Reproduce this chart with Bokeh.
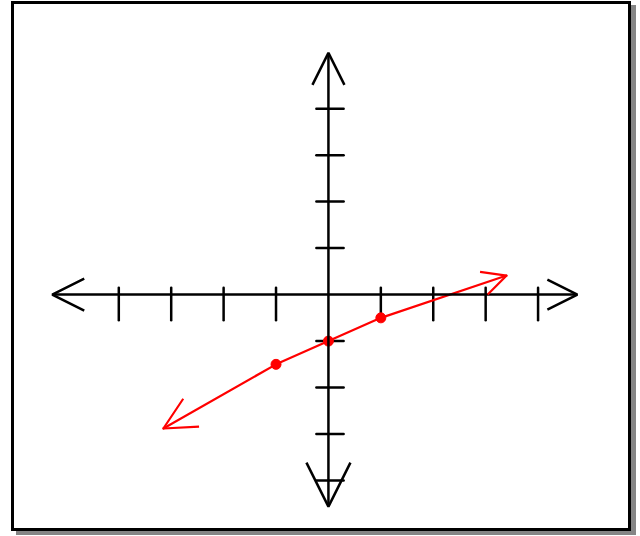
from bokeh.plotting import figure
from bokeh.models import Arrow, OpenHead, Range1d
from bokeh.embed import file_html
from bokeh.resources import INLINE

# ---- data ----
x_ticks = [-4, -3, -2, -1, 1, 2, 3, 4]
y_ticks = [-4, -3, -2, -1, 1, 2, 3, 4]
x_axis_ends = [-5.27, 4.75]
y_axis_ends = [-4.56, 5.2]
pts_x = [-1, 0, 1]
pts_y = [-1.5, -1, -0.5]
line_x = [-3.15, -1, 0, 1, 3.4]
line_y = [-2.88, -1.5, -1, -0.5, 0.41]

BLACK = "#000000"
RED = "#ff0000"
SHADOW = "#858585"

p = figure(width=620, height=530, output_backend="svg", toolbar_location=None,
           x_range=Range1d(-5.99, 5.84), y_range=Range1d(-5.16, 6.24),
           x_axis_location=None, y_axis_location=None,
           min_border=0, outline_line_color=None,
           background_fill_color="white", border_fill_color="white",
           styles={"border": "3px solid black",
                   "box-shadow": "5px 4px 0px " + SHADOW,
                   "margin-left": "11px", "margin-top": "1px"})
p.grid.visible = False

# axes with arrowheads
p.add_layout(Arrow(x_start=x_axis_ends[0], y_start=0, x_end=x_axis_ends[1], y_end=0,
                   line_color=BLACK, line_width=2.5,
                   start=OpenHead(size=32, line_color=BLACK, line_width=2.5),
                   end=OpenHead(size=30, line_color=BLACK, line_width=2.5)))
p.add_layout(Arrow(x_start=0, y_start=y_axis_ends[0], x_end=0, y_end=y_axis_ends[1],
                   line_color=BLACK, line_width=2.5,
                   start=OpenHead(size=44, line_color=BLACK, line_width=2.5),
                   end=OpenHead(size=32, line_color=BLACK, line_width=2.5)))

# tick marks
p.segment(x0=x_ticks, y0=[0.15] * len(x_ticks), x1=x_ticks, y1=[-0.55] * len(x_ticks),
          line_color=BLACK, line_width=2.5, line_cap="round")
p.segment(x0=[-0.23] * len(y_ticks), y0=y_ticks, x1=[0.29] * len(y_ticks), y1=y_ticks,
          line_color=BLACK, line_width=2.5, line_cap="round")

# red line with arrowheads
p.line(line_x, line_y, line_color=RED, line_width=2.2, line_join="round", line_cap="round")
p.add_layout(Arrow(x_start=line_x[1], y_start=line_y[1], x_end=line_x[0], y_end=line_y[0],
                   line_color=None,
                   end=OpenHead(size=32, line_color=RED, line_width=2.2)))
p.add_layout(Arrow(x_start=line_x[-2], y_start=line_y[-2], x_end=line_x[-1], y_end=line_y[-1],
                   line_color=None,
                   end=OpenHead(size=24, line_color=RED, line_width=2.2)))

# points
p.scatter(pts_x, pts_y, size=10, color=RED)

open("out.html", "w").write(file_html(p, INLINE))
